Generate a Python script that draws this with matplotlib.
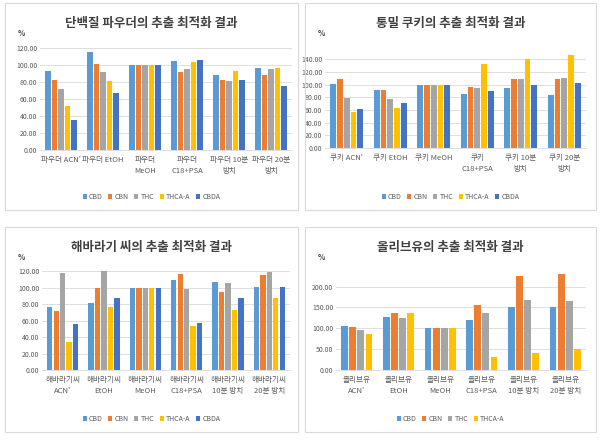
import matplotlib
matplotlib.use("Agg")
from matplotlib import pyplot as plt
from matplotlib.patches import Rectangle
import numpy as np

plt.rcParams['font.family'] = ['Noto Sans CJK KR', 'DejaVu Sans']

W, H = 606, 440

series = ['CBD', 'CBN', 'THC', 'THCA-A', 'CBDA']
colors = ['#5B9BD5', '#ED7D31', '#A5A5A5', '#FFC000', '#4472C4']

# panel 1 - protein powder
powder_title = '단백질 파우더의 추출 최적화 결과'
powder_cats = ["파우더 ACN'", '파우더 EtOH', '파우더\nMeOH', '파우더\nC18+PSA',
               '파우더 10분\n방치', '파우더 20분\n방치']
powder_vals = [
    [93, 116, 100, 105, 89, 97],   # CBD
    [83, 101, 100, 92, 83, 89],    # CBN
    [72, 92, 100, 96, 82, 96],     # THC
    [52, 81, 100, 104, 93, 97],    # THCA-A
    [35, 67, 100, 106, 83, 76],    # CBDA
]

# panel 2 - whole wheat cookie
cookie_title = '통밀 쿠키의 추출 최적화 결과'
cookie_cats = ["쿠키 ACN'", '쿠키 EtOH', '쿠키 MeOH', '쿠키\nC18+PSA',
               '쿠키 10분\n방치', '쿠키 20분\n방치']
cookie_vals = [
    [101, 92, 100, 85, 94, 84],
    [109, 91, 100, 97, 109, 109],
    [79, 77, 100, 95, 109, 110],
    [57, 63, 100, 133, 141, 147],
    [62, 71, 100, 90, 100, 102],
]

# panel 3 - sunflower seed
seed_title = '해바라기 씨의 추출 최적화 결과'
seed_cats = ["해바라기씨\nACN'", '해바라기씨\nEtOH', '해바라기씨\nMeOH',
             '해바라기씨\nC18+PSA', '해바라기씨\n10분 방치', '해바라기씨\n20분 방치']
seed_vals = [
    [76, 82, 100, 110, 107, 101],
    [72, 100, 100, 117, 95, 115],
    [118, 120, 100, 98, 106, 119],
    [34, 77, 100, 53, 73, 87],
    [56, 88, 100, 57, 88, 101],
]

# panel 4 - olive oil (no CBDA)
olive_title = '올리브유의 추출 최적화 결과'
olive_cats = ["올리브유\nACN'", '올리브유\nEtOH', '올리브유\nMeOH',
              '올리브유\nC18+PSA', '올리브유\n10분 방치', '올리브유\n20분 방치']
olive_vals = [
    [106, 127, 100, 120, 151, 151],
    [104, 137, 100, 156, 226, 230],
    [97, 125, 100, 137, 168, 165],
    [86, 137, 100, 31, 40, 50],
]

fig = plt.figure(figsize=(W / 100, H / 100), dpi=100)


def px_rect(x0, y0, x1, y1):
    # pixel box (top-left origin) -> figure fraction
    return [x0 / W, 1 - y1 / H, (x1 - x0) / W, (y1 - y0) / H]


def panel(box, plot, title, cats, vals, yticks, ymax, legend_y):
    bx0, by0, bx1, by1 = box
    fig.patches.append(Rectangle((bx0 / W, 1 - by1 / H), (bx1 - bx0) / W, (by1 - by0) / H,
                                 transform=fig.transFigure, fill=False,
                                 edgecolor='#d9d9d9', linewidth=0.8))
    ax = fig.add_axes(px_rect(*plot))
    n = len(vals)
    x = np.arange(len(cats))
    bw = 0.78 / n
    for i, v in enumerate(vals):
        ax.bar(x - 0.39 + bw * (i + 0.5), v, bw * 0.84, color=colors[i],
               label=series[i], zorder=3)
    ax.set_ylim(0, ymax)
    ax.set_xlim(-0.5, len(cats) - 0.5)
    ax.set_yticks(yticks)
    ax.set_yticklabels(['%.2f' % t for t in yticks], fontsize=5, color='#595959')
    ax.set_xticks(x)
    ax.set_xticklabels(cats, fontsize=5.5, color='#595959', linespacing=1.6)
    ax.tick_params(axis='y', length=0, pad=2)
    ax.tick_params(axis='x', length=0, pad=4)
    ax.grid(axis='y', color='#d9d9d9', linewidth=0.6, zorder=0)
    for s in ['top', 'right', 'left']:
        ax.spines[s].set_visible(False)
    ax.spines['bottom'].set_color('#d9d9d9')
    ax.spines['bottom'].set_linewidth(0.6)
    cx = (bx0 + bx1) / 2
    fig.text(cx / W, 1 - (by0 + 20) / H, title, ha='center', va='center',
             fontsize=9, fontweight='bold', color='#404040')
    fig.text((bx0 + 13) / W, 1 - (by0 + 30) / H, '%', ha='left', va='center',
             fontsize=5.5, fontweight='bold', color='#404040')
    fig.legend(*ax.get_legend_handles_labels(), loc='center',
               bbox_to_anchor=(cx / W, 1 - legend_y / H), ncol=n, frameon=False,
               fontsize=5, handlelength=0.6, handleheight=0.6, handletextpad=0.3,
               columnspacing=0.8, labelcolor='#595959')
    return ax


panel((5, 3, 298, 210), (40, 45, 292, 150), powder_title, powder_cats, powder_vals,
      [0, 20, 40, 60, 80, 100, 120], 124, 197)
panel((305, 3, 596, 210), (325, 53, 586, 148), cookie_title, cookie_cats, cookie_vals,
      [0, 20, 40, 60, 80, 100, 120, 140], 150, 197)
panel((5, 227, 298, 432), (42, 268, 290, 370), seed_title, seed_cats, seed_vals,
      [0, 20, 40, 60, 80, 100, 120], 124, 419)
panel((305, 227, 596, 432), (336, 272, 586, 370), olive_title, olive_cats, olive_vals,
      [0, 50, 100, 150, 200], 235, 419)

fig.savefig('out.png', dpi=100, facecolor='white')
